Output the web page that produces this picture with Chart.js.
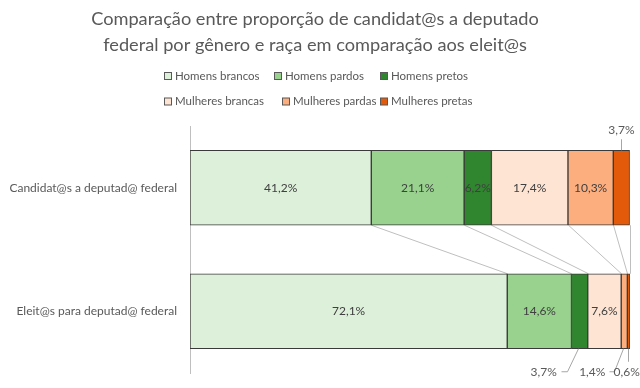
<!DOCTYPE html>
<html>
<head>
<meta charset="utf-8">
<script src="https://cdn.jsdelivr.net/npm/chart.js@4/dist/chart.umd.min.js"></script>
<style>
  html, body { margin: 0; padding: 0; background: #ffffff; }
  #wrap { width: 640px; height: 388px; position: relative; }
</style>
</head>
<body>
<div id="wrap"><canvas id="c" width="640" height="388"></canvas></div>
<script>
// ---- data ----
const categories = ['Candidat@s a deputad@ federal', 'Eleit@s para deputad@ federal'];
const seriesNames = ['Homens brancos', 'Homens pardos', 'Homens pretos', 'Mulheres brancas', 'Mulheres pardas', 'Mulheres pretas'];
const homensBrancos   = [41.2, 72.1];
const homensPardos    = [21.1, 14.6];
const homensPretos    = [6.2, 3.7];
const mulheresBrancas = [17.4, 7.6];
const mulheresPardas  = [10.3, 1.4];
const mulheresPretas  = [3.7, 0.6];
const titleLines = ['Comparação entre proporção de candidat@s a deputado', 'federal por gênero e raça em comparação aos eleit@s'];

// ---- styles ----
const seriesValues = [homensBrancos, homensPardos, homensPretos, mulheresBrancas, mulheresPardas, mulheresPretas];
const colors = ['#DDF0D9', '#98D28E', '#2F862E', '#FEE4D3', '#FCAE7F', '#E35A0B'];
const FONT = 'Lato, "Open Sans", sans-serif';
const textColor = '#595959';
const labelColor = '#404040';

// outside label placement: [datasetIndex, dataIndex] -> offsets from segment edge
const outsideLabels = {
  '5-0': { side: 'top', dx: 0, dy: -20, leader: [[0, -11], [0, 0]] },
  '2-1': { side: 'bottom', dx: -36, dy: 23, leader: [[-19, 23], [-13, 23], [-2, 0]] },
  '4-1': { side: 'bottom', dx: -32, dy: 23, leader: [[-15, 23], [-10, 23], [-1, 0]] },
  '5-1': { side: 'bottom', dx: -2, dy: 23, leader: [[-1, 13], [-1, 0]] }
};

const fmt = v => v.toFixed(1).replace('.', ',') + '%';

const datasets = seriesNames.map((name, i) => ({
  label: name,
  data: seriesValues[i],
  backgroundColor: colors[i],
  borderColor: '#3A3A3A',
  borderWidth: 1,
  borderSkipped: false,
  barThickness: 75
}));

const seriesLinesPlugin = {
  id: 'seriesLines',
  beforeDatasetsDraw(chart) {
    const ctx = chart.ctx;
    ctx.save();
    ctx.strokeStyle = '#BFBFBF';
    ctx.lineWidth = 1;
    chart.data.datasets.forEach((ds, i) => {
      const meta = chart.getDatasetMeta(i);
      const a = meta.data[0], b = meta.data[1];
      ctx.beginPath();
      ctx.moveTo(Math.round(a.x) + 0.5, a.y + a.height / 2);
      ctx.lineTo(Math.round(b.x) + 0.5, b.y - b.height / 2);
      ctx.stroke();
    });
    ctx.restore();
  }
};

const labelsPlugin = {
  id: 'segLabels',
  afterDatasetsDraw(chart) {
    const ctx = chart.ctx;
    ctx.save();
    ctx.font = '12px ' + FONT;
    ctx.fillStyle = labelColor;
    ctx.textAlign = 'center';
    ctx.textBaseline = 'middle';
    chart.data.datasets.forEach((ds, i) => {
      const meta = chart.getDatasetMeta(i);
      meta.data.forEach((el, j) => {
        const v = ds.data[j];
        const cx = (el.x + el.base) / 2;
        const key = i + '-' + j;
        const o = outsideLabels[key];
        if (o) {
          const ey = o.side === 'top' ? el.y - el.height / 2 : el.y + el.height / 2;
          ctx.fillStyle = textColor;
          ctx.fillText(fmt(v), cx + o.dx, ey + o.dy);
          ctx.strokeStyle = '#A6A6A6';
          ctx.lineWidth = 1;
          ctx.beginPath();
          o.leader.forEach((p, k) => {
            const px = Math.round(cx + p[0]) + 0.5, py = ey + p[1];
            if (k === 0) ctx.moveTo(px, py); else ctx.lineTo(px, py);
          });
          ctx.stroke();
          ctx.fillStyle = labelColor;
        } else {
          ctx.fillText(fmt(v), cx, el.y);
        }
      });
    });
    ctx.restore();
  }
};

const legendPlugin = {
  id: 'customLegend',
  afterDraw(chart) {
    const ctx = chart.ctx;
    const rows = [[0, 1, 2], [3, 4, 5]];
    const rowY = [76, 101.5];
    const boxX = [[164, 274, 380], [164, 282, 380]];
    ctx.save();
    ctx.font = '11.5px ' + FONT;
    ctx.textBaseline = 'middle';
    ctx.textAlign = 'left';
    rows.forEach((r, ri) => {
      r.forEach((si, ci) => {
        const x = boxX[ri][ci], y = rowY[ri];
        ctx.fillStyle = colors[si];
        ctx.fillRect(x + 0.5, y - 3.5, 7, 7);
        ctx.strokeStyle = '#595959';
        ctx.lineWidth = 1;
        ctx.strokeRect(x + 0.5, y - 3.5, 7, 7);
        ctx.fillStyle = textColor;
        ctx.fillText(seriesNames[si], x + 11, y);
      });
    });
    ctx.restore();
  }
};

new Chart(document.getElementById('c'), {
  type: 'bar',
  data: { labels: categories, datasets },
  options: {
    indexAxis: 'y',
    responsive: false,
    animation: false,
    devicePixelRatio: 1,
    layout: { padding: { left: 0, right: 10, top: 0, bottom: 15 } },
    plugins: {
      legend: { display: false },
      tooltip: { enabled: false },
      title: {
        display: true,
        text: titleLines,
        color: textColor,
        font: { family: FONT, size: 18.2, weight: 'normal', lineHeight: 26 / 18.2 },
        padding: { top: 6, bottom: 68 }
      }
    },
    scales: {
      x: { stacked: true, min: 0, max: 100, display: false },
      y: {
        stacked: true,
        grid: { display: false, drawTicks: false },
        border: { display: true, color: '#BFBFBF' },
        ticks: { color: textColor, font: { family: FONT, size: 12 }, padding: 13 },
        afterFit(scale) { scale.width = 190; scale.paddingTop = 0; scale.paddingBottom = 0; }
      }
    }
  },
  plugins: [seriesLinesPlugin, labelsPlugin, legendPlugin]
});
</script>
</body>
</html>
